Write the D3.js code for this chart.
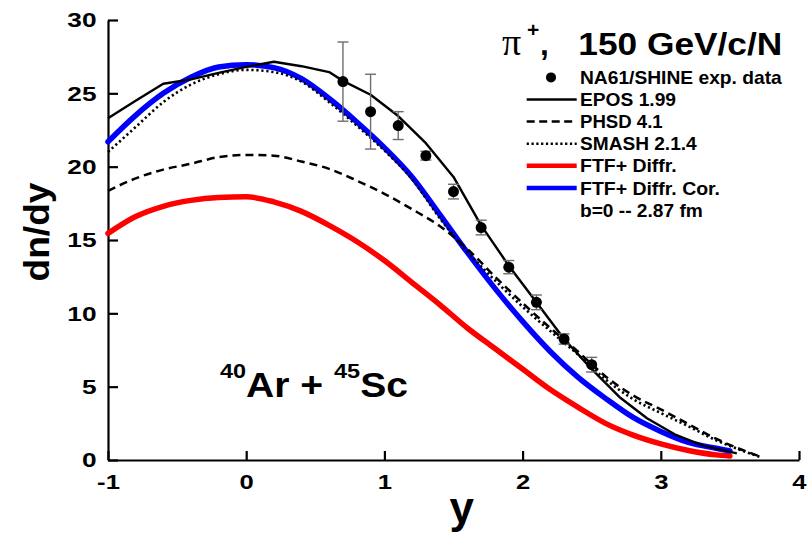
<!DOCTYPE html>
<html>
<head>
<meta charset="utf-8">
<script src="https://cdn.jsdelivr.net/npm/d3@7"></script>
<style>
  html, body { margin: 0; padding: 0; background: #ffffff; }
  svg { display: block; }
  text { font-family: "Liberation Sans", Arial, sans-serif; font-weight: bold; fill: #000; }
</style>
</head>
<body>
<svg id="chart" width="809" height="534"></svg>
<script>
// ---------------- data ----------------
const xTicks = [-1, 0, 1, 2, 3, 4];
const yTicks = [0, 5, 10, 15, 20, 25, 30];

// NA61/SHINE experimental points
const expRap = [0.7, 0.9, 1.1, 1.3, 1.5, 1.7, 1.9, 2.1, 2.3, 2.5];
const expVal = [25.8, 23.75, 22.8, 20.75, 18.3, 15.85, 13.15, 10.75, 8.25, 6.5];
const expErr = [2.7, 2.55, 0.95, 0.3, 0.5, 0.5, 0.45, 0.5, 0.35, 0.5];

// EPOS 1.99
const eposRap = [-1, -0.8, -0.6, -0.4, -0.2, 0, 0.2, 0.4, 0.6, 0.7, 0.9, 1.1, 1.3, 1.5, 1.7, 1.9, 2.1, 2.3, 2.5, 2.7, 2.9, 3.1, 3.3, 3.55];
const eposVal = [23.3, 24.5, 25.65, 25.95, 26.4, 26.8, 27.15, 26.85, 26.45, 25.85, 24.9, 23.45, 21.6, 19.3, 16.0, 13.25, 10.75, 8.25, 6.2, 4.3, 2.85, 1.75, 1.0, 0.45];

// PHSD 4.1
const phsdRap = [-1, -0.8, -0.6, -0.4, -0.2, 0, 0.2, 0.4, 0.6, 0.8, 1.0, 1.2, 1.4, 1.6, 1.8, 2.0, 2.2, 2.4, 2.6, 2.8, 3.0, 3.2, 3.4, 3.6, 3.73];
const phsdVal = [18.35, 19.2, 19.8, 20.2, 20.65, 20.8, 20.75, 20.35, 19.85, 19.05, 18.15, 17.1, 15.95, 14.4, 12.5, 10.7, 9.0, 7.4, 5.7, 4.4, 3.45, 2.45, 1.45, 0.65, 0.2];

// SMASH 2.1.4
const smashRap = [-1, -0.8, -0.6, -0.4, -0.2, 0, 0.2, 0.4, 0.6, 0.8, 1.0, 1.2, 1.4, 1.6, 1.8, 2.0, 2.2, 2.4, 2.6, 2.8, 3.0, 3.2, 3.4, 3.6, 3.72];
const smashVal = [21.0, 22.7, 24.4, 25.6, 26.3, 26.6, 26.45, 25.8, 24.4, 22.8, 21.1, 19.15, 16.5, 14.2, 12.25, 10.45, 8.8, 7.2, 5.5, 4.15, 3.2, 2.3, 1.35, 0.6, 0.2];

// FTF + Diffr.
const ftfRap = [-1, -0.8, -0.6, -0.4, -0.2, 0, 0.2, 0.4, 0.6, 0.8, 1.0, 1.2, 1.4, 1.6, 1.8, 2.0, 2.2, 2.4, 2.6, 2.8, 3.0, 3.2, 3.4, 3.5];
const ftfVal = [15.45, 16.6, 17.3, 17.7, 17.9, 17.95, 17.6, 16.95, 16.0, 14.9, 13.6, 12.1, 10.6, 9.0, 7.6, 6.2, 4.8, 3.6, 2.5, 1.7, 1.1, 0.65, 0.35, 0.27];

// FTF + Diffr. Cor.
const corRap = [-1, -0.8, -0.6, -0.4, -0.2, 0, 0.2, 0.4, 0.6, 0.8, 1.0, 1.2, 1.4, 1.6, 1.8, 2.0, 2.2, 2.4, 2.6, 2.8, 3.0, 3.2, 3.4, 3.5];
const corVal = [21.7, 23.5, 25.0, 26.1, 26.8, 26.95, 26.75, 26.0, 24.65, 23.05, 21.3, 19.3, 16.75, 14.15, 11.7, 9.45, 7.4, 5.65, 4.2, 2.9, 1.95, 1.2, 0.8, 0.62];

const legendLabels = ["NA61/SHINE exp. data", "EPOS 1.99", "PHSD 4.1", "SMASH 2.1.4", "FTF+ Diffr.", "FTF+ Diffr. Cor.", "b=0 -- 2.87 fm"];

// ---------------- drawing ----------------
const svg = d3.select("#chart");
svg.append("rect").attr("width", 809).attr("height", 534).attr("fill", "#fff");

const x = d3.scaleLinear().domain([-1, 4]).range([108, 799]);
const y = d3.scaleLinear().domain([0, 30]).range([460, 20]);

function fitText(t, targetW) {
  const w = t.node().getComputedTextLength();
  return w > 0 ? targetW / w : 1;
}

// axes
const xAxis = svg.append("g").attr("transform", `translate(0,${y(0)})`)
  .call(d3.axisBottom(x).tickValues(xTicks).tickSizeInner(-9).tickSizeOuter(0).tickPadding(14).tickFormat(d3.format("d")));
const yAxis = svg.append("g").attr("transform", `translate(${x(-1)},0)`)
  .call(d3.axisLeft(y).tickValues(yTicks).tickSizeInner(-10).tickSizeOuter(0).tickFormat(d3.format("d")));
[xAxis, yAxis].forEach(a => {
  a.select(".domain").attr("stroke", "#000").attr("stroke-width", 2.2);
  a.selectAll(".tick line").attr("stroke", "#000").attr("stroke-width", 2.2);
  a.selectAll(".tick text").style("font-family", '"Liberation Sans", Arial, sans-serif')
    .style("font-weight", "bold").attr("font-size", 21).attr("fill", "#000");
});
xAxis.selectAll(".tick text").attr("y", 0).attr("transform", "translate(0,14) scale(1.22,1)")
  .text(d => d < 0 ? "-" + Math.abs(d) : d);
yAxis.selectAll(".tick text").attr("x", 0).attr("transform", "translate(-11.5,0) scale(1.25,1)");

// line generators
const smooth = d3.line().x(d => x(d[0])).y(d => y(d[1])).curve(d3.curveMonotoneX);
const straight = d3.line().x(d => x(d[0])).y(d => y(d[1])).curve(d3.curveLinear);
const zip = (a, b) => a.map((v, i) => [v, b[i]]);

const plot = svg.append("g");
plot.append("path").attr("d", smooth(zip(ftfRap, ftfVal)))
  .attr("fill", "none").attr("stroke", "#ff0000").attr("stroke-width", 5.5).attr("stroke-linecap", "round");
plot.append("path").attr("d", smooth(zip(corRap, corVal)))
  .attr("fill", "none").attr("stroke", "#0000ff").attr("stroke-width", 5.5).attr("stroke-linecap", "round");
plot.append("path").attr("d", smooth(zip(phsdRap, phsdVal)))
  .attr("fill", "none").attr("stroke", "#000").attr("stroke-width", 2.5).attr("stroke-dasharray", "8,5");
plot.append("path").attr("d", smooth(zip(smashRap, smashVal)))
  .attr("fill", "none").attr("stroke", "#000").attr("stroke-width", 2.6).attr("stroke-dasharray", "2.2,2.8");
plot.append("path").attr("d", straight(zip(eposRap, eposVal)))
  .attr("fill", "none").attr("stroke", "#000").attr("stroke-width", 2.4).attr("stroke-linejoin", "round");

// experimental points with error bars
const pts = expRap.map((r, i) => ({ r, v: expVal[i], e: expErr[i] }));
const eb = plot.append("g").attr("stroke", "#6e6e6e").attr("stroke-width", 1.4);
pts.forEach(p => {
  const cx = x(p.r), y1 = y(p.v + p.e), y2 = y(p.v - p.e);
  eb.append("line").attr("x1", cx).attr("x2", cx).attr("y1", y1).attr("y2", y2);
  eb.append("line").attr("x1", cx - 5.5).attr("x2", cx + 5.5).attr("y1", y1).attr("y2", y1);
  eb.append("line").attr("x1", cx - 5.5).attr("x2", cx + 5.5).attr("y1", y2).attr("y2", y2);
});
plot.append("g").selectAll("circle").data(pts).join("circle")
  .attr("cx", d => x(d.r)).attr("cy", d => y(d.v)).attr("r", 5.5).attr("fill", "#000");

// title: pi+, 150 GeV/c/N
svg.append("text").attr("x", 502).attr("y", 55.3)
  .style("font-family", '"Liberation Serif", "Times New Roman", serif').style("font-weight", "normal")
  .attr("font-size", 38).text("\u03C0");
svg.append("text").attr("x", 527).attr("y", 37).attr("font-size", 21).text("+");
svg.append("text").attr("x", 540).attr("y", 55.3).attr("font-size", 31.7).text(",");
{
  const t = svg.append("text").attr("x", 0).attr("y", 0).attr("font-size", 31.7).text("150 GeV/c/N");
  const s = fitText(t, 204);
  t.attr("transform", `translate(578.3,55.3) scale(${s},1)`);
}

// legend
const legBase = 84, legStep = 22.1, legW = [201.7, 96, 82.7, 116.7, 96.7, 140, 122.7];
legendLabels.forEach((lab, i) => {
  const t = svg.append("text").attr("x", 0).attr("y", 0).attr("font-size", 18.3).text(lab);
  const s = fitText(t, legW[i]);
  t.attr("transform", `translate(580,${legBase + i * legStep}) scale(${s},1)`);
});
const ly = i => legBase + i * legStep - 6.6;
svg.append("circle").attr("cx", 551).attr("cy", ly(0)).attr("r", 5).attr("fill", "#000");
const legStyles = [
  null,
  { c: "#000", w: 2.5, d: null },
  { c: "#000", w: 2.5, d: "8,4.5" },
  { c: "#000", w: 2.5, d: "2.2,2.6" },
  { c: "#ff0000", w: 4.5, d: null },
  { c: "#0000ff", w: 4.5, d: null }
];
legStyles.forEach((st, i) => {
  if (!st) return;
  const l = svg.append("line").attr("x1", 526.7).attr("x2", 576.7).attr("y1", ly(i)).attr("y2", ly(i))
    .attr("stroke", st.c).attr("stroke-width", st.w);
  if (st.d) l.attr("stroke-dasharray", st.d);
});

// reaction label 40Ar + 45Sc
{
  const t = svg.append("text").attr("x", 0).attr("y", 0).attr("font-size", 35);
  t.append("tspan").attr("font-size", 21).attr("dy", -18.5).text("40");
  t.append("tspan").attr("dy", 18.5).text("Ar + ");
  t.append("tspan").attr("font-size", 21).attr("dy", -18.5).text("45");
  t.append("tspan").attr("dy", 18.5).text("Sc");
  const s = fitText(t, 188);
  t.attr("transform", `translate(220,396.7) scale(${s},1)`);
}

// axis titles
{
  const t = svg.append("text").attr("x", 0).attr("y", 0).attr("font-size", 36).attr("text-anchor", "middle").text("dn/dy");
  const s = fitText(t, 99);
  t.attr("transform", `translate(48.5,232) rotate(-90) scale(${s},1)`);
}
svg.append("text").attr("x", 461.7).attr("y", 523).attr("font-size", 44).attr("text-anchor", "middle").text("y");
</script>
</body>
</html>
